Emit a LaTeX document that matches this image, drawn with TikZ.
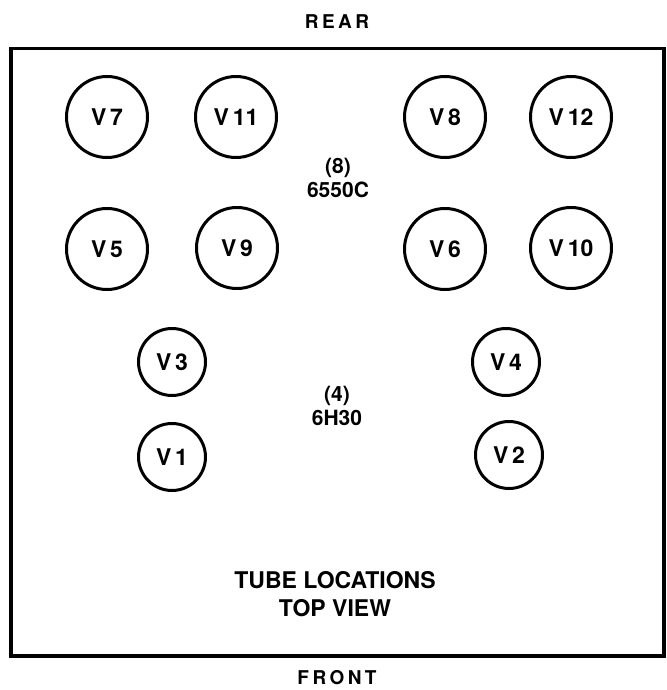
\documentclass[tikz,border=0pt]{standalone}
\usepackage{fontspec}
\setmainfont{TeX Gyre Heros}
\tikzset{
    tubebig/.style   = {minimum size = 81pt},
    tubesmall/.style = {minimum size = 67pt},
}
\begin{document}
\begin{tikzpicture}[x = 1pt, y = -1pt]
    \useasboundingbox (0, 0) rectangle (666, 690);

    \coordinate (NW) at ( 11,  48.5);
    \coordinate (SE) at (664, 656);

    \draw[line width = 3.3pt] (NW) rectangle (SE);

    \begin{scope}[
        every node/.style = {
            inner sep = 0pt,
            align     = center,
            font      = \bfseries\fontsize{19}{19}\selectfont\addfontfeature{LetterSpace=18},
        }
    ]
        \node (rear)  at (337,  22) {REAR};
        \node (front) at (337, 678) {FRONT};
    \end{scope}

    \begin{scope}[
        every node/.style = {
            inner sep = 0pt,
            align     = center,
            font      = \bfseries\fontsize{21}{23.5}\selectfont,
        }
    ]
        \node (power) at (338, 178) {(8)\\6550C};
        \node (pre)   at (337, 406) {(4)\\6H30};
        \node (title) at (335, 594) [font = \bfseries\fontsize{23}{28}\selectfont] {TUBE LOCATIONS\\TOP VIEW};
    \end{scope}

    \begin{scope}[
        every node/.style = {
            shape      = circle,
            draw,
            line width = 3pt,
            inner sep  = 0pt,
            font       = \bfseries\fontsize{23}{23}\selectfont,
        }
    ]
        % output tubes
        \node (V7)  at (107, 117) [tubebig] {V\,7};
        \node (V11) at (236, 117) [tubebig] {V\,11};
        \node (V8)  at (445, 117) [tubebig] {V\,8};
        \node (V12) at (571, 117) [tubebig] {V\,12};
        \node (V5)  at (107, 249) [tubebig] {V\,5};
        \node (V9)  at (237, 248) [tubebig] {V\,9};
        \node (V6)  at (445, 249) [tubebig] {V\,6};
        \node (V10) at (571, 248) [tubebig] {V\,10};

        % driver tubes
        \node (V3) at (172, 362) [tubesmall] {V\,3};
        \node (V4) at (506, 362) [tubesmall] {V\,4};
        \node (V1) at (172, 457) [tubesmall] {V\,1};
        \node (V2) at (509, 455) [tubesmall] {V\,2};
    \end{scope}
\end{tikzpicture}
\end{document}
